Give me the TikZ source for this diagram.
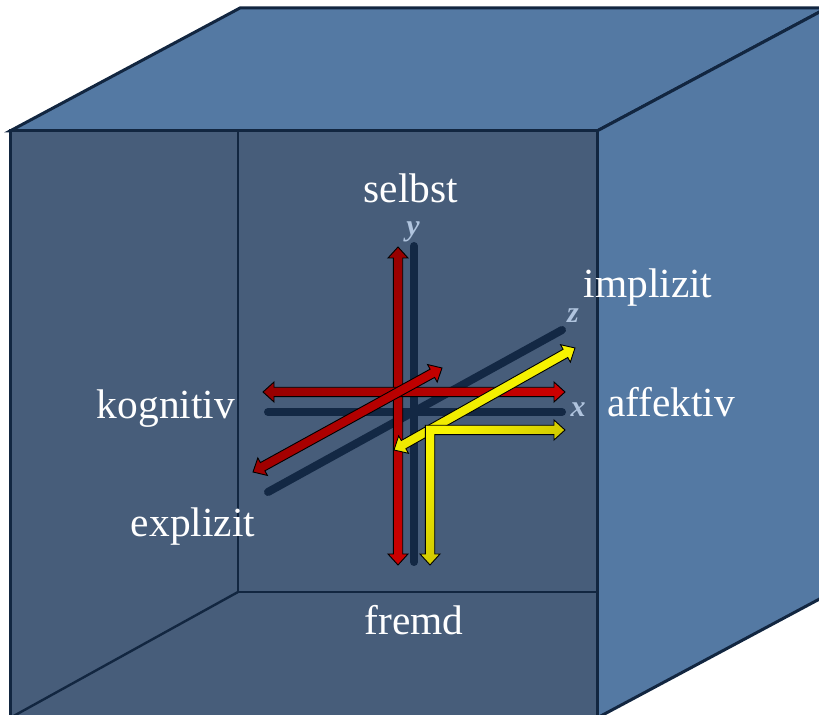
\documentclass[tikz,border=0pt]{standalone}
\usepackage{fontspec}
\setmainfont{Liberation Serif}
\usetikzlibrary{calc}
\definecolor{cwall} {RGB}{ 71,  93, 122}
\definecolor{cside} {RGB}{ 84, 121, 163}
\definecolor{cedge} {RGB}{ 18,  38,  64}
\definecolor{caxis} {RGB}{ 19,  40,  68}
\definecolor{caxlbl}{RGB}{176, 196, 222}
\definecolor{credA} {RGB}{150,   0,   0}
\definecolor{credB} {RGB}{204,   0,   0}
\definecolor{cyelA} {RGB}{248, 244,   0}
\definecolor{cyelB} {RGB}{178, 168,   0}
\tikzset{
  boxedge/.style = {draw=cedge, line width=1.5pt, line join=miter},
  inner/.style   = {draw=cedge, line width=1.2pt},
  axis/.style    = {draw=caxis, line width=4pt, line cap=round},
  redarr/.style  = {draw=black, line width=0.45pt, line join=miter,
                    top color=credA, bottom color=credB},
  yelarr/.style  = {draw=black, line width=0.45pt, line join=miter,
                    top color=cyelA, bottom color=cyelB},
  lbl/.style     = {text=white, anchor=base, inner sep=0pt,
                    font=\fontsize{20.7}{24}\selectfont},
  axl/.style     = {text=caxlbl, anchor=base, inner sep=0pt,
                    font=\fontsize{15}{18}\selectfont\bfseries\itshape}
}
% block arrow with a head on both ends
\def\arrs{2.35pt}  % half shaft width
\def\arrh{5pt}     % half head width
\def\arrl{5.5pt}   % head length
\newcommand{\dblarrow}[3]{%
  \coordinate (ha) at ($(#1)!\arrl!(#2)$);
  \coordinate (hb) at ($(#2)!\arrl!(#1)$);
  \draw[#3] (#1)
    -- ($(ha)!\arrh!90:(#2)$) -- ($(ha)!\arrs!90:(#2)$)
    -- ($(hb)!\arrs!-90:(#1)$) -- ($(hb)!\arrh!-90:(#1)$)
    -- (#2)
    -- ($(hb)!\arrh!90:(#1)$) -- ($(hb)!\arrs!90:(#1)$)
    -- ($(ha)!\arrs!-90:(#2)$) -- ($(ha)!\arrh!-90:(#2)$)
    -- cycle;
}

\begin{document}
\begin{tikzpicture}[x=0.5pt, y=-0.5pt]

\clip (0,0) rectangle (819,715);

% ── Box corners ─────────────────────────────────────────────────────────────
\coordinate (ftl) at (10,131);   % front top left
\coordinate (ftr) at (597,131);  % front top right
\coordinate (fbl) at (10,718);
\coordinate (fbr) at (597,718);
\coordinate (btl) at (240,8);    % back top left
\coordinate (btr) at (827,8);
\coordinate (bbr) at (827,595);
\coordinate (wtl) at (238,131);  % inner back wall
\coordinate (wbl) at (238,592);
\coordinate (wbr) at (597,592);

% ── Outer faces ─────────────────────────────────────────────────────────────
\draw[boxedge, fill=cside] (ftl) -- (btl) -- (btr) -- (ftr) -- cycle;
\draw[boxedge, fill=cside] (ftr) -- (btr) -- (bbr) -- (fbr) -- cycle;
\fill[cwall] (ftl) rectangle (fbr);

% ── Inside of the box ───────────────────────────────────────────────────────
\draw[inner] (wtl) -- (wbl) -- (wbr);
\draw[inner] (wbl) -- (fbl);
\draw[boxedge] (ftl) rectangle (fbr);

% ── Axes ────────────────────────────────────────────────────────────────────
\coordinate (x0) at (268,412);  \coordinate (x1) at (562,412);
\coordinate (y0) at (414,562);  \coordinate (y1) at (414,246);
\coordinate (z0) at (268,492);  \coordinate (z1) at (562,330);
\draw[axis] (x0) -- (x1);
\draw[axis] (y0) -- (y1);
\draw[axis] (z0) -- (z1);

\node[axl] (xl) at (578,417) {x};
\node[axl] (yl) at (413,236) {y};
\node[axl] (zl) at (573,323) {z};

% ── Red arrows ──────────────────────────────────────────────────────────────
\coordinate (rv0) at (398,247);  \coordinate (rv1) at (398,565);
\coordinate (rh0) at (263,392);  \coordinate (rh1) at (565,392);
\coordinate (rd0) at (253,472);  \coordinate (rd1) at (442,368);
\dblarrow{rv0}{rv1}{redarr}
\dblarrow{rh0}{rh1}{redarr, left color=credA, right color=credB}
\dblarrow{rd0}{rd1}{redarr, shading angle=60}

% ── Yellow arrows ───────────────────────────────────────────────────────────
\coordinate (yd0) at (394,450);  \coordinate (yd1) at (575,348);
\dblarrow{yd0}{yd1}{yelarr, top color=cyelA, bottom color=cyelA!85!cyelB}

\coordinate (yb) at (430,565);   % lower tip
\coordinate (yc) at (430,430);   % corner
\coordinate (yr) at (565,430);   % right tip
\draw[yelarr, shading angle=45] (yb)
  -- ++(10,-11) -- ++(-5.3,0) -- (434.7,434.7) -- (554,434.7)
  -- ++(0,5.3) -- (yr) -- ++(-11,-10) -- ++(0,5.3)
  -- (425.3,425.3) -- (425.3,554) -- ++(-5.3,0) -- cycle;

% ── Labels ──────────────────────────────────────────────────────────────────
\node[lbl] (selbst)   at (411,203) {selbst};
\node[lbl] (fremd)    at (414,634) {fremd};
\node[lbl] (kognitiv) at (166,419) {kognitiv};
\node[lbl] (affektiv) at (671,417) {affektiv};
\node[lbl] (implizit) at (648,298) {implizit};
\node[lbl] (explizit) at (193,537) {explizit};

\end{tikzpicture}
\end{document}
